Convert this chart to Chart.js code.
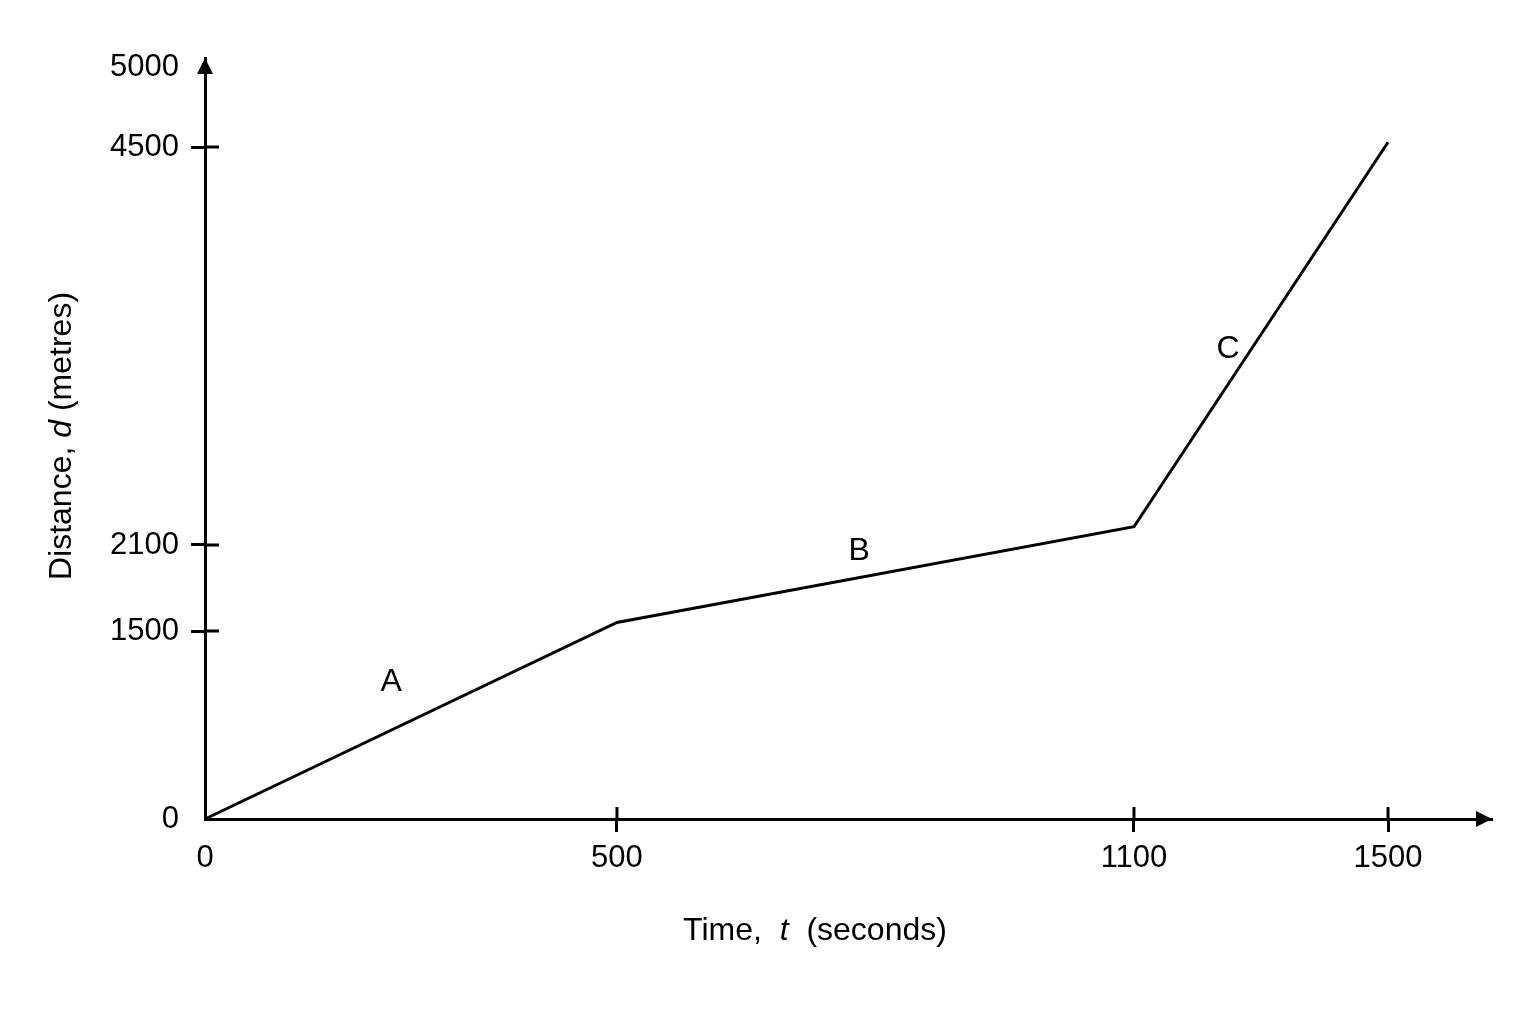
<!DOCTYPE html>
<html>
<head>
<meta charset="utf-8">
<script src="https://cdn.jsdelivr.net/npm/chart.js@4.4.1/dist/chart.umd.min.js"></script>
<style>
  html, body { margin: 0; padding: 0; background: #fff; }
  #wrap { width: 1536px; height: 1024px; }
</style>
</head>
<body>
<div id="wrap"><canvas id="graph" width="1536" height="1024"></canvas></div>
<script>
// Journey: time in seconds, distance in metres
const times = [0, 500, 1100, 1500];
const distances = [0, 1560, 2210, 4530];

// Tick labels shown on each axis
const xTickValues = [0, 500, 1100, 1500];
const yTickValues = [0, 1500, 2100, 4500, 5000];

// Stage letters written beside the line (t, d where each sits)
const stageNames = ['A', 'B', 'C'];
const stageT = [226, 781, 1248];
const stageD = [1093, 2058, 3282];

const FONT = '"Liberation Sans", Arial, Helvetica, sans-serif';

// The sketch is not drawn to scale, so each axis is stretched
// differently between its marked values (piecewise linear)
class PiecewiseScale extends Chart.LinearScale {
    static id = 'piecewise';

    toDecimal(value) {
        const b = this.options.breaks, s = this.options.stops;
        if (value <= b[0]) return s[0];
        for (let i = 1; i < b.length; i++) {
            if (value <= b[i]) {
                return s[i - 1] + (value - b[i - 1]) / (b[i] - b[i - 1]) * (s[i] - s[i - 1]);
            }
        }
        return s[s.length - 1];
    }

    getPixelForValue(value) {
        return this.getPixelForDecimal(this.toDecimal(value));
    }

    getValueForPixel(pixel) {
        const d = this.getDecimalForPixel(pixel);
        const b = this.options.breaks, s = this.options.stops;
        for (let i = 1; i < s.length; i++) {
            if (d <= s[i]) {
                return b[i - 1] + (d - s[i - 1]) / (s[i] - s[i - 1]) * (b[i] - b[i - 1]);
            }
        }
        return b[b.length - 1];
    }
}
Chart.register(PiecewiseScale);

// draws a line of text where some pieces are italic (maths symbols)
function drawMixed(ctx, parts, cx, cy, size) {
    const fontFor = italic => (italic ? 'italic ' : '') + size + 'px ' + FONT;
    let total = 0;
    const widths = parts.map(([txt, italic]) => {
        ctx.font = fontFor(italic);
        const w = ctx.measureText(txt).width;
        total += w;
        return w;
    });
    let x = cx - total / 2;
    ctx.textAlign = 'left';
    ctx.textBaseline = 'middle';
    parts.forEach(([txt, italic], i) => {
        ctx.font = fontFor(italic);
        ctx.fillText(txt, x, cy);
        x += widths[i];
    });
}

// arrowheads, the inner half of each tick mark, stage letters and axis titles
const sketchExtras = {
    id: 'sketchExtras',
    afterDraw(chart) {
        const { ctx, chartArea: a } = chart;
        const x = chart.scales.x, y = chart.scales.y;
        ctx.save();
        ctx.fillStyle = '#000';
        ctx.strokeStyle = '#000';

        // arrowheads
        ctx.beginPath();
        ctx.moveTo(a.left, a.top);
        ctx.lineTo(a.left - 8, a.top + 16);
        ctx.lineTo(a.left + 8, a.top + 16);
        ctx.closePath();
        ctx.fill();
        ctx.beginPath();
        ctx.moveTo(a.right, a.bottom);
        ctx.lineTo(a.right - 16, a.bottom - 8);
        ctx.lineTo(a.right - 16, a.bottom + 8);
        ctx.closePath();
        ctx.fill();

        // tick marks cross the axis lines
        ctx.lineWidth = 3;
        ctx.beginPath();
        xTickValues.forEach(v => {
            if (v === 0) return;
            const px = x.getPixelForValue(v);
            ctx.moveTo(px, a.bottom);
            ctx.lineTo(px, a.bottom - 12);
        });
        yTickValues.forEach(v => {
            if (v === 0 || v === 5000) return;
            const py = y.getPixelForValue(v);
            ctx.moveTo(a.left, py);
            ctx.lineTo(a.left + 14, py);
        });
        ctx.stroke();

        // stage letters
        ctx.font = '32px ' + FONT;
        ctx.textAlign = 'center';
        ctx.textBaseline = 'middle';
        stageNames.forEach((n, i) => {
            ctx.fillText(n, x.getPixelForValue(stageT[i]), y.getPixelForValue(stageD[i]));
        });

        // axis titles
        drawMixed(ctx, [['Time,  ', false], ['t', true], ['  (seconds)', false]], 815, 931, 32);
        ctx.translate(62, 436);
        ctx.rotate(-Math.PI / 2);
        drawMixed(ctx, [['Distance, ', false], ['d', true], [' (metres)', false]], 0, 0, 32);
        ctx.restore();
    }
};

window.onload = function() {
    const ctx = document.getElementById('graph').getContext('2d');

    const tickFont = { family: FONT, size: 31 };

    const config = {
        type: 'line',
        data: {
            datasets: [{
                data: times.map((t, i) => ({ x: t, y: distances[i] })),
                borderColor: '#000',
                borderWidth: 3,
                pointRadius: 0,
                fill: false,
                tension: 0,
                clip: false
            }]
        },
        options: {
            responsive: false,
            devicePixelRatio: 1,
            animation: false,
            layout: { padding: { top: 58, right: 44, left: 0, bottom: 0 } },
            plugins: {
                legend: { display: false },
                tooltip: { enabled: false }
            },
            scales: {
                x: {
                    type: 'piecewise',
                    min: 0,
                    max: 1660,
                    breaks: [0, 500, 1100, 1500, 1660],
                    stops: [0, 0.3201, 0.7218, 0.9192, 1],
                    afterBuildTicks: s => { s.ticks = xTickValues.map(v => ({ value: v })); },
                    afterFit: s => { s.height = 205; },
                    border: { display: true, color: '#000', width: 3 },
                    grid: {
                        drawOnChartArea: false,
                        tickLength: 13,
                        tickWidth: 3,
                        tickColor: c => (c.tick && c.tick.value === 0) ? 'rgba(0,0,0,0)' : '#000'
                    },
                    ticks: {
                        color: '#000',
                        font: tickFont,
                        padding: 8,
                        autoSkip: false,
                        maxRotation: 0,
                        callback: v => String(v)
                    }
                },
                y: {
                    type: 'piecewise',
                    min: 0,
                    max: 5050,
                    breaks: [0, 1500, 2100, 4500, 5000, 5050],
                    stops: [0, 0.2470, 0.3601, 0.8830, 0.9882, 1],
                    afterBuildTicks: s => { s.ticks = yTickValues.map(v => ({ value: v })); },
                    afterFit: s => { s.width = 205; },
                    border: { display: true, color: '#000', width: 3 },
                    grid: {
                        drawOnChartArea: false,
                        tickLength: 14,
                        tickWidth: 3,
                        // no mark at the origin or at the top value
                        tickColor: c => (c.tick && (c.tick.value === 0 || c.tick.value === 5000)) ? 'rgba(0,0,0,0)' : '#000'
                    },
                    ticks: {
                        color: '#000',
                        font: tickFont,
                        padding: 12,
                        autoSkip: false,
                        callback: v => String(v)
                    }
                }
            }
        },
        plugins: [sketchExtras]
    };

    new Chart(ctx, config);
};
</script>
</body>
</html>
